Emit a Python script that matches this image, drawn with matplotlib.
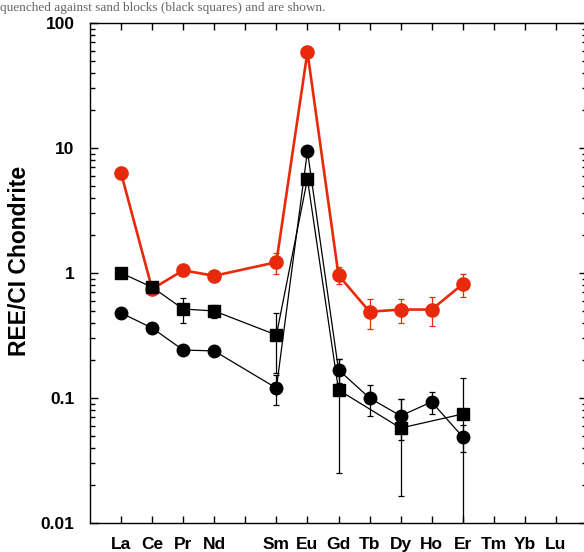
import numpy as np
import matplotlib
matplotlib.use('Agg')
import matplotlib.pyplot as plt
from matplotlib.ticker import LogLocator, NullFormatter, FixedLocator

plt.rcParams['font.family'] = ['Liberation Sans', 'DejaVu Sans']

elements = ['La', 'Ce', 'Pr', 'Nd', '', 'Sm', 'Eu', 'Gd', 'Tb', 'Dy', 'Ho', 'Er', 'Tm', 'Yb', 'Lu']

# red circles
red_el = ['La', 'Ce', 'Pr', 'Nd', 'Sm', 'Eu', 'Gd', 'Tb', 'Dy', 'Ho', 'Er']
red_val = [6.3, 0.745, 1.05, 0.95, 1.22, 58.6, 0.96, 0.49, 0.51, 0.51, 0.815]
red_err = [0.0, 0.07, 0.1, 0.05, 0.23, 0.0, 0.15, 0.135, 0.115, 0.13, 0.17]

# black squares
sq_el = ['La', 'Ce', 'Pr', 'Nd', 'Sm', 'Eu', 'Gd', 'Dy', 'Er']
sq_val = [1.0, 0.77, 0.515, 0.497, 0.319, 5.65, 0.116, 0.0575, 0.0745]
sq_err = [0.0, 0.0, 0.115, 0.06, 0.16, 0.0, 0.091, 0.041, 0.069]

# black circles
ci_el = ['La', 'Ce', 'Pr', 'Nd', 'Sm', 'Eu', 'Gd', 'Tb', 'Dy', 'Ho', 'Er']
ci_val = [0.479, 0.363, 0.242, 0.238, 0.12, 9.46, 0.168, 0.1, 0.072, 0.093, 0.0488]
ci_err = [0.0, 0.0, 0.0, 0.0, 0.032, 0.0, 0.037, 0.028, 0.026, 0.018, 0.012]

def xpos(els):
    return [elements.index(e) + 1 for e in els]

fig = plt.figure(figsize=[5.84, 5.52], dpi=100)
ax = fig.add_axes([90/584, 29/552, 497/584, 500/552])

red = '#e82a0c'
ax.errorbar(xpos(red_el), red_val, yerr=red_err, fmt='-o', color=red, ms=9.5,
            lw=1.9, elinewidth=0.9, capsize=2.5, capthick=0.9, zorder=3)
ax.errorbar(xpos(ci_el), ci_val, yerr=ci_err, fmt='-o', color='black', ms=9,
            lw=0.9, elinewidth=0.9, capsize=2.5, capthick=0.9, zorder=4)
ax.errorbar(xpos(sq_el), sq_val, yerr=sq_err, fmt='-s', color='black', ms=9,
            lw=0.9, elinewidth=0.9, capsize=2.5, capthick=0.9, zorder=5)

ax.set_yscale('log')
ax.set_ylim(0.01, 100)
ax.set_xlim(0, 16)
ax.yaxis.set_major_locator(FixedLocator([0.01, 0.1, 1, 10, 100]))
ax.set_yticklabels(['0.01', '0.1', '1', '10', '100'])
ax.yaxis.set_minor_locator(LogLocator(base=10, subs=np.arange(2, 10)))
ax.yaxis.set_minor_formatter(NullFormatter())
ax.set_xticks(range(1, 16))
ax.set_xticklabels(elements)

ax.tick_params(axis='both', which='both', direction='in', top=True, right=True, width=1.0)
ax.tick_params(axis='y', which='major', length=6, pad=11, labelsize=12.5)
ax.tick_params(axis='y', which='minor', length=3.5)
ax.tick_params(axis='x', which='major', length=5, pad=10, labelsize=12.5)
for lab in ax.get_xticklabels() + ax.get_yticklabels():
    lab.set_fontweight('bold')
for sp in ax.spines.values():
    sp.set_linewidth(1.0)

ax.set_ylabel('REE/CI Chondrite', fontsize=16.5, fontweight='bold')
ax.yaxis.set_label_coords(-0.118, 0.524)

# caption line at the top of the image
fig.text(0.0, 1 - 11/552, 'quenched against sand blocks (black squares) and are shown.',
         fontsize=9.5, family='Liberation Serif', color='#666666', va='baseline')

plt.savefig('out.png', dpi=100)
plt.close()
